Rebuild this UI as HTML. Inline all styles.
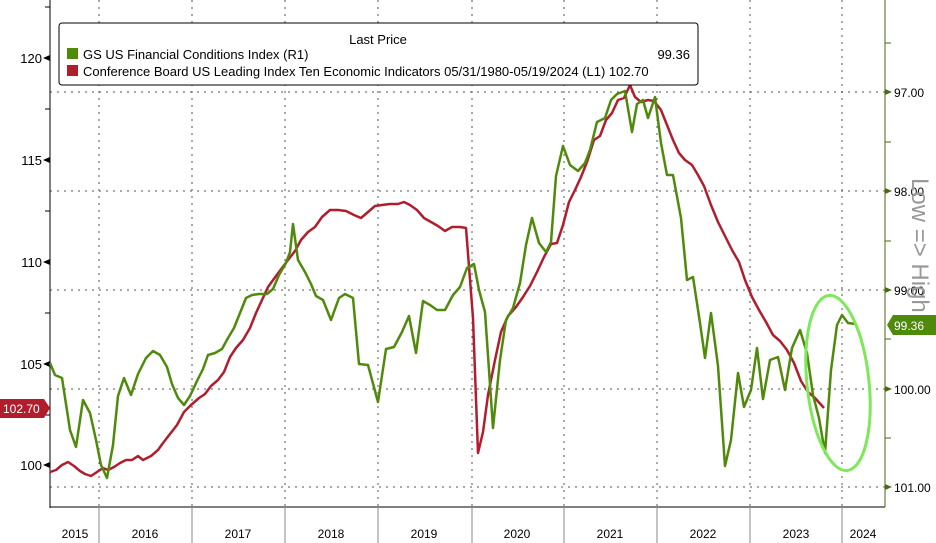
<!DOCTYPE html>
<html><head><meta charset="utf-8"><style>
body{margin:0;background:#fff;}
svg{display:block;font-family:"Liberation Sans",sans-serif;}
</style></head><body>
<svg width="936" height="543" viewBox="0 0 936 543" xmlns="http://www.w3.org/2000/svg">
<rect width="936" height="543" fill="#fff"/>
<g stroke="#555" stroke-width="1" stroke-dasharray="2,5">
<line x1="50" y1="92" x2="885" y2="92"/><line x1="50" y1="191" x2="885" y2="191"/><line x1="50" y1="290" x2="885" y2="290"/><line x1="50" y1="389" x2="885" y2="389"/><line x1="50" y1="487" x2="885" y2="487"/>
<line x1="99" y1="0" x2="99" y2="507"/><line x1="192" y1="0" x2="192" y2="507"/><line x1="285" y1="0" x2="285" y2="507"/><line x1="378" y1="0" x2="378" y2="507"/><line x1="472" y1="0" x2="472" y2="507"/><line x1="564" y1="0" x2="564" y2="507"/><line x1="657" y1="0" x2="657" y2="507"/><line x1="750" y1="0" x2="750" y2="507"/><line x1="842" y1="0" x2="842" y2="507"/>
</g>
<line x1="50" y1="0" x2="50" y2="508" stroke="#000"/>
<line x1="50" y1="507" x2="885" y2="507" stroke="#000"/>
<line x1="885" y1="0" x2="885" y2="507" stroke="#4a6a10"/>
<g stroke="#888"><line x1="99" y1="507" x2="99" y2="543"/><line x1="192" y1="507" x2="192" y2="543"/><line x1="285" y1="507" x2="285" y2="543"/><line x1="378" y1="507" x2="378" y2="543"/><line x1="472" y1="507" x2="472" y2="543"/><line x1="564" y1="507" x2="564" y2="543"/><line x1="657" y1="507" x2="657" y2="543"/><line x1="750" y1="507" x2="750" y2="543"/><line x1="842" y1="507" x2="842" y2="543"/></g>
<g stroke="#000"><line x1="45" y1="7" x2="50" y2="7"/><line x1="45" y1="109" x2="50" y2="109"/><line x1="45" y1="211" x2="50" y2="211"/><line x1="45" y1="313" x2="50" y2="313"/><line x1="45" y1="415" x2="50" y2="415"/></g>
<g fill="#000"><polygon points="43,58 50,55 50,61"/><polygon points="43,160 50,157 50,163"/><polygon points="43,262 50,259 50,265"/><polygon points="43,364 50,361 50,367"/><polygon points="43,465 50,462 50,468"/></g>
<g font-size="13" text-anchor="end" fill="#000"><text x="42" y="63">120</text><text x="42" y="165">115</text><text x="42" y="267">110</text><text x="42" y="369">105</text><text x="42" y="470">100</text></g>
<g stroke="#4a6a10"><line x1="885" y1="43" x2="891" y2="43"/><line x1="885" y1="142" x2="891" y2="142"/><line x1="885" y1="241" x2="891" y2="241"/><line x1="885" y1="339" x2="891" y2="339"/><line x1="885" y1="438" x2="891" y2="438"/></g>
<g fill="#4a6a10"><polygon points="885,89 892,92 885,95"/><polygon points="885,188 892,191 885,194"/><polygon points="885,287 892,290 885,293"/><polygon points="885,386 892,389 885,392"/><polygon points="885,484 892,487 885,490"/></g>
<g font-size="12" fill="#000"><text x="894" y="97">97.00</text><text x="894" y="196">98.00</text><text x="894" y="295">99.00</text><text x="894" y="394">100.00</text><text x="894" y="492">101.00</text></g>
<text transform="translate(912,178) rotate(90)" font-size="24" fill="#999">Low =&gt; High</text>
<g font-size="12" fill="#000" text-anchor="middle"><text x="75" y="538">2015</text><text x="145" y="538">2016</text><text x="238" y="538">2017</text><text x="331" y="538">2018</text><text x="424" y="538">2019</text><text x="517" y="538">2020</text><text x="610" y="538">2021</text><text x="703" y="538">2022</text><text x="796" y="538">2023</text><text x="863" y="538">2024</text></g>
<polyline fill="none" stroke="#b01e2e" stroke-width="2.5" stroke-linejoin="round" points="50,472 56,470 62,465 68,462 74,466 80,471 85,474 91,476 97,472 103,468 108,470 114,467 120,463 126,460 132,460 138,456 143,460 151,456 158,450 163,443 170,434 177,425 184,412 191,405 199,398 205,394 211,386 218,380 224,372 230,357 236,348 243,340 250,328 256,313 262,300 268,287 276,276 282,268 288,260 295,251 301,240 308,232 315,227 322,217 330,210 338,210 346,211 354,215 361,218 368,212 375,206 382,205 390,204 398,204 404,202 410,205 417,210 424,218 431,222 438,226 445,231 452,227 460,227 466,228 473,318 478,453 483,432 488,395 495,360 501,332 508,316 516,307 523,297 530,286 537,272 544,257 551,244 557,243 563,225 569,202 575,190 581,177 587,162 594,140 600,136 606,120 612,113 618,100 624,98 630,85 635,97 641,102 648,100 654,101 661,110 667,125 673,140 679,153 685,160 692,165 698,175 704,186 711,205 718,222 725,236 732,250 739,262 745,280 752,297 759,310 766,322 773,335 780,341 787,350 794,363 801,381 808,392 815,398 824,408"/>
<polyline fill="none" stroke="#4f8a0b" stroke-width="2.5" stroke-linejoin="round" points="50,363 55,375 62,378 70,430 76,447 83,400 90,413 96,440 101,465 107,478 113,445 118,396 124,378 131,395 138,374 146,358 153,351 160,355 167,367 172,384 178,398 184,405 190,396 197,381 203,369 208,355 215,353 222,349 228,338 234,328 238,318 246,298 252,295 259,294 267,294 273,289 279,275 286,263 290,252 293,224 298,260 305,272 311,284 316,296 323,300 331,320 339,298 345,294 353,298 359,364 368,365 378,402 386,349 394,347 402,332 409,316 416,353 423,301 430,305 437,310 445,310 453,295 460,287 467,268 474,264 479,290 485,312 493,428 500,360 506,320 513,308 520,283 526,245 532,218 539,243 546,252 551,242 556,176 563,146 570,165 578,171 585,163 590,150 597,122 605,118 611,100 617,94 625,91 632,132 637,104 643,100 648,118 655,97 661,143 667,175 673,175 681,218 687,280 693,277 700,323 705,358 711,313 718,366 725,466 731,440 738,373 744,407 751,390 757,348 763,399 770,360 778,357 785,390 792,348 800,330 807,353 813,395 819,418 825,453 831,370 837,325 842,315 848,323 856,324"/>
<ellipse cx="838" cy="383" rx="31" ry="88" transform="rotate(-6 838 383)" fill="none" stroke="#7de85a" stroke-width="3"/>
<rect x="59" y="23" width="639" height="62" rx="3" fill="#fff" stroke="#000"/>
<text x="378" y="44" font-size="13" text-anchor="middle">Last Price</text>
<rect x="67" y="48" width="11" height="11" fill="#4f8a0b"/>
<rect x="67" y="65" width="11" height="11" fill="#b01e2e"/>
<text x="83" y="59" font-size="13">GS US Financial Conditions Index  (R1)</text>
<text x="83" y="76" font-size="13">Conference Board US Leading Index Ten Economic Indicators 05/31/1980-05/19/2024  (L1) 102.70</text>
<text x="690" y="59" font-size="13" text-anchor="end">99.36</text>
<polygon points="0,399 44,399 50,408 44,418 0,418" fill="#b01e2e"/>
<text x="3" y="413" font-size="12" fill="#fff">102.70</text>
<polygon points="887,325 893,315 936,315 936,335 893,335" fill="#4f8a0b"/>
<text x="894" y="330" font-size="12" fill="#fff">99.36</text>
</svg>
</body></html>
